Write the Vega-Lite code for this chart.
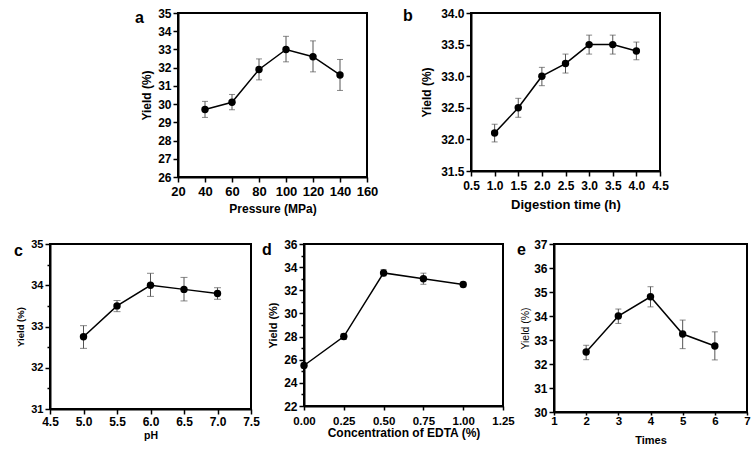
{
  "$schema": "https://vega.github.io/schema/vega-lite/v6.json",
  "padding": {"left": 13, "top": 6, "right": 0, "bottom": 0},
  "background": "white",
  "config": {
    "view": {"stroke": "black", "strokeWidth": 2},
    "axis": {"domainColor": "black", "domainWidth": 2, "tickColor": "black", "tickWidth": 1.5, "tickSize": 5, "labelColor": "black", "labelFont": "Liberation Sans", "labelFontWeight": "bold", "titleFont": "Liberation Sans", "titleFontWeight": "bold", "titleColor": "black", "grid": false, "labelPadding": 2, "titlePadding": 5, "labelFlush": false, "labelOverlap": false},
    "title": {"font": "Liberation Sans", "fontWeight": "bold", "fontSize": 16, "color": "black", "anchor": "start", "frame": "group", "offset": 0, "baseline": "alphabetic"}
  },
  "spacing": 22,
  "center": false,
  "vconcat": [
    {
      "spacing": 23,
      "hconcat": [
        {"width": 60, "height": 10, "data": {"values": []}, "mark": "point", "view": {"stroke": "transparent"}},
        {
          "width": 189, "height": 164,
          "title": {"text": "a", "dx": -43, "dy": 23},
          "data": {"values": [
            {"x": 40, "y": 29.7, "lo": 29.27, "hi": 30.15},
            {"x": 60, "y": 30.1, "lo": 29.69, "hi": 30.53},
            {"x": 80, "y": 31.9, "lo": 31.33, "hi": 32.48},
            {"x": 100, "y": 33.0, "lo": 32.32, "hi": 33.72},
            {"x": 120, "y": 32.6, "lo": 31.77, "hi": 33.47},
            {"x": 140, "y": 31.6, "lo": 30.75, "hi": 32.45}
          ]},
          "encoding": {"x": {"field": "x", "type": "quantitative", "title": "Pressure (MPa)", "scale": {"domain": [20, 160], "nice": false, "zero": false}, "axis": {"values": [20, 40, 60, 80, 100, 120, 140, 160], "labelFontSize": 13, "titleFontSize": 12, "labelPadding": 3, "titlePadding": 5}}},
          "resolve": {"axis": {"y": "independent"}},
          "layer": [
            {"mark": {"type": "errorbar", "color": "#555", "ticks": {"size": 6, "thickness": 1, "color": "#555"}, "rule": {"strokeWidth": 1, "color": "#555"}},
             "encoding": {"y": {"field": "lo", "type": "quantitative", "title": "Yield (%)", "axis": null}, "y2": {"field": "hi"}}},
            {"mark": {"type": "line", "color": "black", "strokeWidth": 1.5},
             "encoding": {"y": {"field": "y", "type": "quantitative", "title": "Yield (%)", "scale": {"domain": [26, 35], "nice": false, "zero": false}, "axis": {"values": [26, 27, 28, 29, 30, 31, 32, 33, 34, 35], "labelFontSize": 12, "titleFontSize": 12, "titlePadding": 4}}}},
            {"mark": {"type": "point", "filled": true, "color": "black", "opacity": 1, "size": 55},
             "encoding": {"y": {"field": "y", "type": "quantitative", "title": "Yield (%)", "axis": null}}}
          ]
        },
        {
          "width": 189, "height": 158,
          "title": {"text": "b", "dx": -68, "dy": 21},
          "data": {"values": [
            {"x": 1.0, "y": 32.1, "lo": 31.96, "hi": 32.24},
            {"x": 1.5, "y": 32.5, "lo": 32.35, "hi": 32.65},
            {"x": 2.0, "y": 33.0, "lo": 32.85, "hi": 33.14},
            {"x": 2.5, "y": 33.2, "lo": 33.05, "hi": 33.35},
            {"x": 3.0, "y": 33.5, "lo": 33.35, "hi": 33.65},
            {"x": 3.5, "y": 33.5, "lo": 33.35, "hi": 33.65},
            {"x": 4.0, "y": 33.4, "lo": 33.26, "hi": 33.54}
          ]},
          "encoding": {"x": {"field": "x", "type": "quantitative", "title": "Digestion time (h)", "scale": {"domain": [0.5, 4.5], "nice": false, "zero": false}, "axis": {"values": [0.5, 1, 1.5, 2, 2.5, 3, 3.5, 4, 4.5], "format": ".1f", "labelFontSize": 12, "titleFontSize": 13, "labelPadding": 4, "titlePadding": 7}}},
          "resolve": {"axis": {"y": "independent"}},
          "layer": [
            {"mark": {"type": "errorbar", "color": "#555", "ticks": {"size": 6, "thickness": 1, "color": "#555"}, "rule": {"strokeWidth": 1, "color": "#555"}},
             "encoding": {"y": {"field": "lo", "type": "quantitative", "title": "Yield (%)", "axis": null}, "y2": {"field": "hi"}}},
            {"mark": {"type": "line", "color": "black", "strokeWidth": 1.5},
             "encoding": {"y": {"field": "y", "type": "quantitative", "title": "Yield (%)", "scale": {"domain": [31.5, 34], "nice": false, "zero": false}, "axis": {"values": [31.5, 32, 32.5, 33, 33.5, 34], "format": ".1f", "labelFontSize": 12, "titleFontSize": 12, "titlePadding": 7}}}},
            {"mark": {"type": "point", "filled": true, "color": "black", "opacity": 1, "size": 55},
             "encoding": {"y": {"field": "y", "type": "quantitative", "title": "Yield (%)", "axis": null}}}
          ]
        }
      ]
    },
    {
      "spacing": 0,
      "hconcat": [
        {
          "width": 201, "height": 165,
          "title": {"text": "c", "dx": -36, "dy": 24.5},
          "data": {"values": [
            {"x": 5.0, "y": 32.75, "lo": 32.47, "hi": 33.02},
            {"x": 5.5, "y": 33.5, "lo": 33.36, "hi": 33.63},
            {"x": 6.0, "y": 34.0, "lo": 33.73, "hi": 34.29},
            {"x": 6.5, "y": 33.9, "lo": 33.62, "hi": 34.19},
            {"x": 7.0, "y": 33.8, "lo": 33.66, "hi": 33.94}
          ]},
          "encoding": {"x": {"field": "x", "type": "quantitative", "title": "pH", "scale": {"domain": [4.5, 7.5], "nice": false, "zero": false}, "axis": {"values": [4.5, 5, 5.5, 6, 6.5, 7, 7.5], "format": ".1f", "labelFontSize": 12, "titleFontSize": 10.5, "labelPadding": 2, "titlePadding": 3}}},
          "resolve": {"axis": {"y": "independent"}},
          "layer": [
            {"mark": {"type": "errorbar", "color": "#555", "ticks": {"size": 7, "thickness": 1, "color": "#555"}, "rule": {"strokeWidth": 1, "color": "#555"}},
             "encoding": {"y": {"field": "lo", "type": "quantitative", "title": "Yield (%)", "axis": null}, "y2": {"field": "hi"}}},
            {"mark": {"type": "line", "color": "black", "strokeWidth": 1.5},
             "encoding": {"y": {"field": "y", "type": "quantitative", "title": "Yield (%)", "scale": {"domain": [31, 35], "nice": false, "zero": false}, "axis": {"values": [31, 32, 33, 34, 35], "labelFontSize": 11, "titleFontSize": 9.5, "titlePadding": 5}}}},
            {"mark": {"type": "point", "filled": true, "color": "black", "opacity": 1, "size": 55},
             "encoding": {"y": {"field": "y", "type": "quantitative", "title": "Yield (%)", "axis": {"orient": "left", "values": [31.5, 32.5, 33.5, 34.5], "labels": false, "domain": false, "title": null, "tickSize": 3}}}}
          ]
        },
        {
          "width": 199, "height": 162,
          "title": {"text": "d", "dx": -42, "dy": 24},
          "data": {"values": [
            {"x": 0.0, "y": 25.5, "lo": 25.3, "hi": 25.7},
            {"x": 0.25, "y": 28.0, "lo": 27.75, "hi": 28.25},
            {"x": 0.5, "y": 33.5, "lo": 33.25, "hi": 33.8},
            {"x": 0.75, "y": 33.0, "lo": 32.52, "hi": 33.48},
            {"x": 1.0, "y": 32.5, "lo": 32.3, "hi": 32.7}
          ]},
          "encoding": {"x": {"field": "x", "type": "quantitative", "title": "Concentration of EDTA (%)", "scale": {"domain": [0, 1.25], "nice": false, "zero": false}, "axis": {"values": [0, 0.25, 0.5, 0.75, 1, 1.25], "format": ".2f", "labelFontSize": 11.5, "titleFontSize": 12, "tickSize": 4, "labelPadding": 5, "titlePadding": 1}}},
          "resolve": {"axis": {"y": "independent"}},
          "layer": [
            {"mark": {"type": "errorbar", "color": "#555", "ticks": {"size": 6, "thickness": 1, "color": "#555"}, "rule": {"strokeWidth": 1, "color": "#555"}},
             "encoding": {"y": {"field": "lo", "type": "quantitative", "title": "Yield (%)", "axis": null}, "y2": {"field": "hi"}}},
            {"mark": {"type": "line", "color": "black", "strokeWidth": 1.5},
             "encoding": {"y": {"field": "y", "type": "quantitative", "title": "Yield (%)", "scale": {"domain": [22, 36], "nice": false, "zero": false}, "axis": {"values": [22, 24, 26, 28, 30, 32, 34, 36], "labelFontSize": 12, "titleFontSize": 11, "titlePadding": 5}}}},
            {"mark": {"type": "point", "filled": true, "color": "black", "opacity": 1, "size": 55},
             "encoding": {"y": {"field": "y", "type": "quantitative", "title": "Yield (%)", "axis": {"orient": "left", "values": [23, 25, 27, 29, 31, 33, 35], "labels": false, "domain": false, "title": null, "tickSize": 3}}}}
          ]
        },
        {
          "width": 193, "height": 168,
          "title": {"text": "e", "dx": -37, "dy": 24},
          "data": {"values": [
            {"x": 2, "y": 32.5, "lo": 32.18, "hi": 32.78},
            {"x": 3, "y": 34.0, "lo": 33.69, "hi": 34.29},
            {"x": 4, "y": 34.8, "lo": 34.38, "hi": 35.22},
            {"x": 5, "y": 33.25, "lo": 32.64, "hi": 33.83},
            {"x": 6, "y": 32.75, "lo": 32.17, "hi": 33.34}
          ]},
          "encoding": {"x": {"field": "x", "type": "quantitative", "title": "Times", "scale": {"domain": [1, 7], "nice": false, "zero": false}, "axis": {"values": [1, 2, 3, 4, 5, 6, 7], "format": "d", "labelFontSize": 11.5, "titleFontSize": 11, "tickSize": 3, "labelPadding": 0, "titlePadding": 8}}},
          "resolve": {"axis": {"y": "independent"}},
          "layer": [
            {"mark": {"type": "errorbar", "color": "#555", "ticks": {"size": 6, "thickness": 1, "color": "#555"}, "rule": {"strokeWidth": 1, "color": "#555"}},
             "encoding": {"y": {"field": "lo", "type": "quantitative", "title": "Yield (%)", "axis": null}, "y2": {"field": "hi"}}},
            {"mark": {"type": "line", "color": "black", "strokeWidth": 1.5},
             "encoding": {"y": {"field": "y", "type": "quantitative", "title": "Yield (%)", "scale": {"domain": [30, 37], "nice": false, "zero": false}, "axis": {"values": [30, 31, 32, 33, 34, 35, 36, 37], "labelFontSize": 12, "titleFontSize": 10.5, "titleFontWeight": "normal", "titlePadding": 3}}}},
            {"mark": {"type": "point", "filled": true, "color": "black", "opacity": 1, "size": 55},
             "encoding": {"y": {"field": "y", "type": "quantitative", "title": "Yield (%)", "axis": null}}}
          ]
        }
      ]
    }
  ]
}
